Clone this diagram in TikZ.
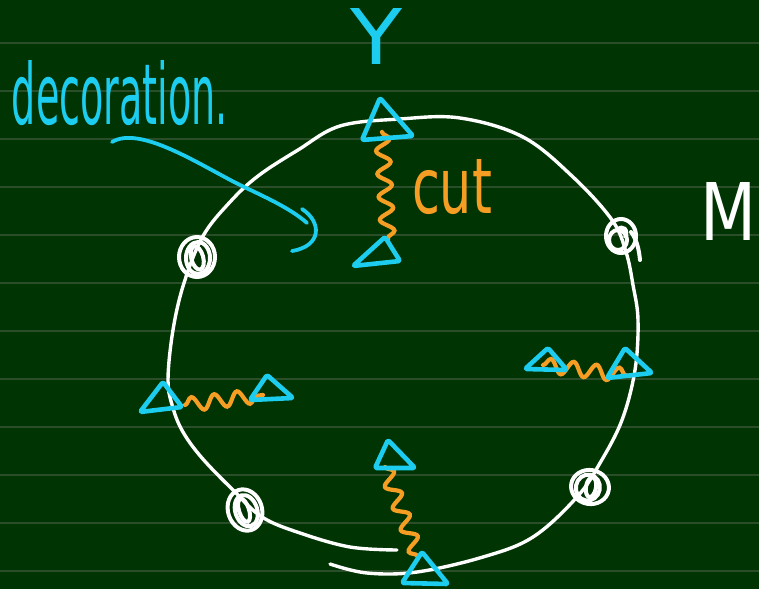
\documentclass[tikz,border=0pt]{standalone}
\usepackage{graphicx}
\usepackage{fontspec}
\setmainfont{DejaVu Sans}
\usetikzlibrary{decorations.pathmorphing}

\definecolor{board}{RGB}{0,52,2}
\definecolor{ruling}{RGB}{42,78,42}
\definecolor{ink}{RGB}{28,205,240}
\definecolor{wavy}{RGB}{245,158,35}

\tikzset{
  loopline/.style={white, line width=3.4pt, line cap=round, line join=round},
  blob/.style={white, line width=4pt},
  vtx/.style={ink, line width=4.6pt, line join=round, line cap=round, rounded corners=1.5pt},
  cutline/.style={wavy, line width=4.2pt, line cap=round,
    decorate, decoration={snake, amplitude=7pt, segment length=23pt}},
  pen/.style={ink, line width=3.8pt, line cap=round},
  label/.style={inner sep=0pt, outer sep=0pt}
}

\begin{document}
\begin{tikzpicture}[x=1pt, y=-1pt]
  % board and its ruled lines
  \fill[board] (0,0) rectangle (759,589);
  \useasboundingbox (0,0) rectangle (759,589);
  \foreach \k in {0,...,11}
    \draw[ruling, line width=2pt] (0,43+48*\k) -- (759,43+48*\k);

  % the closed loop, drawn in one stroke that overlaps at the bottom
  \draw[loopline] plot[smooth, tension=0.6] coordinates {
    (330,564) (367,573) (417,572) (483,557) (533,537) (577,497) (600,463)
    (622,420) (635,370) (638,320) (633,285) (626,252) (612,220) (573,177)
    (523,137) (460,118) (400,119) (340,126) (298,150) (258,176) (230,202)
    (203,236) (184,283) (173,330) (168,380) (173,408) (183,432) (202,458)
    (233,490) (262,517) (300,533) (350,547) (397,550)};

  % scribbled marks on the loop
  \begin{scope}[shift={(197,257)}]
    \draw[blob] (0,0) ellipse [x radius=18, y radius=20];
    \draw[blob] (1,1) ellipse [x radius=12, y radius=16];
    \draw[blob, rotate=15] (0,1) ellipse [x radius=6, y radius=12];
  \end{scope}
  \begin{scope}[shift={(245,510)}, rotate=18]
    \draw[blob] (0,0) ellipse [x radius=17, y radius=21];
    \draw[blob] (1,1) ellipse [x radius=11, y radius=16];
    \draw[blob] (-1,0) ellipse [x radius=5, y radius=12];
  \end{scope}
  \begin{scope}[shift={(590,487)}, rotate=-10]
    \draw[blob] (0,0) ellipse [x radius=19, y radius=17];
    \draw[blob] (-2,1) ellipse [x radius=12, y radius=13];
    \draw[blob] (1,0) ellipse [x radius=5, y radius=10];
  \end{scope}
  \begin{scope}[shift={(621,236)}]
    \draw[blob] (0,0) ellipse [x radius=15, y radius=17];
    \draw[blob] (-3,4) ellipse [x radius=9, y radius=10];
    \draw[blob] (-4,-6) .. controls (2,-12) and (8,-6) .. (4,2);
    \draw[blob, line cap=round] (10,-4) .. controls (16,4) and (18,14) .. (19,24);
  \end{scope}

  % cut lines between vertex pairs
  \coordinate (t1) at (382,132);  \coordinate (t2) at (388,240);
  \coordinate (l1) at (185,405);  \coordinate (l2) at (263,395);
  \coordinate (r1) at (543,365);  \coordinate (r2) at (630,376);
  \coordinate (b1) at (385,467);  \coordinate (b2) at (418,557);
  \draw[cutline] (t1) -- (t2);
  \draw[cutline] (l1) -- (l2);
  \draw[cutline] (r1) -- (r2);
  \draw[cutline] (b1) -- (b2);

  % vertex triangles
  \draw[vtx] (380,98)  -- (362,140) -- (413,136) -- cycle;
  \draw[vtx] (385,237) -- (353,266) -- (400,261) -- cycle;
  \draw[vtx] (163,382) -- (140,412) -- (182,407) -- cycle;
  \draw[vtx] (267,375) -- (250,400) -- (293,398) -- cycle;
  \draw[vtx] (548,348) -- (525,369) -- (567,370) -- cycle;
  \draw[vtx] (625,348) -- (607,378) -- (652,373) -- cycle;
  \draw[vtx] (388,440) -- (375,468) -- (415,468) -- cycle;
  \draw[vtx] (422,552) -- (402,583) -- (448,584) -- cycle;

  % labels
  \node[label, ink, anchor=base west] (deco) at (12,124)
    {\resizebox{216pt}{64pt}{decoration.}};
  \node[label, wavy, anchor=base west] (cut) at (412,213)
    {\resizebox{80pt}{54pt}{cut}};
  \node[label, white, anchor=base west] (M) at (700,240)
    {\resizebox{56pt}{58pt}{M}};
  \node[label, ink, anchor=base west] (Y) at (350,64)
    {\resizebox{52pt}{56pt}{Y}};

  % pointer from the label towards the inside of the loop
  \coordinate (p0) at (112,142);
  \coordinate (p1) at (307,223);
  \draw[pen] (p0) .. controls (140,125) and (200,165) .. (240,185)
                  .. controls (265,197) and (290,208) .. (p1);
  \draw[pen] (302,209) .. controls (322,222) and (322,246) .. (292,251);
\end{tikzpicture}
\end{document}
